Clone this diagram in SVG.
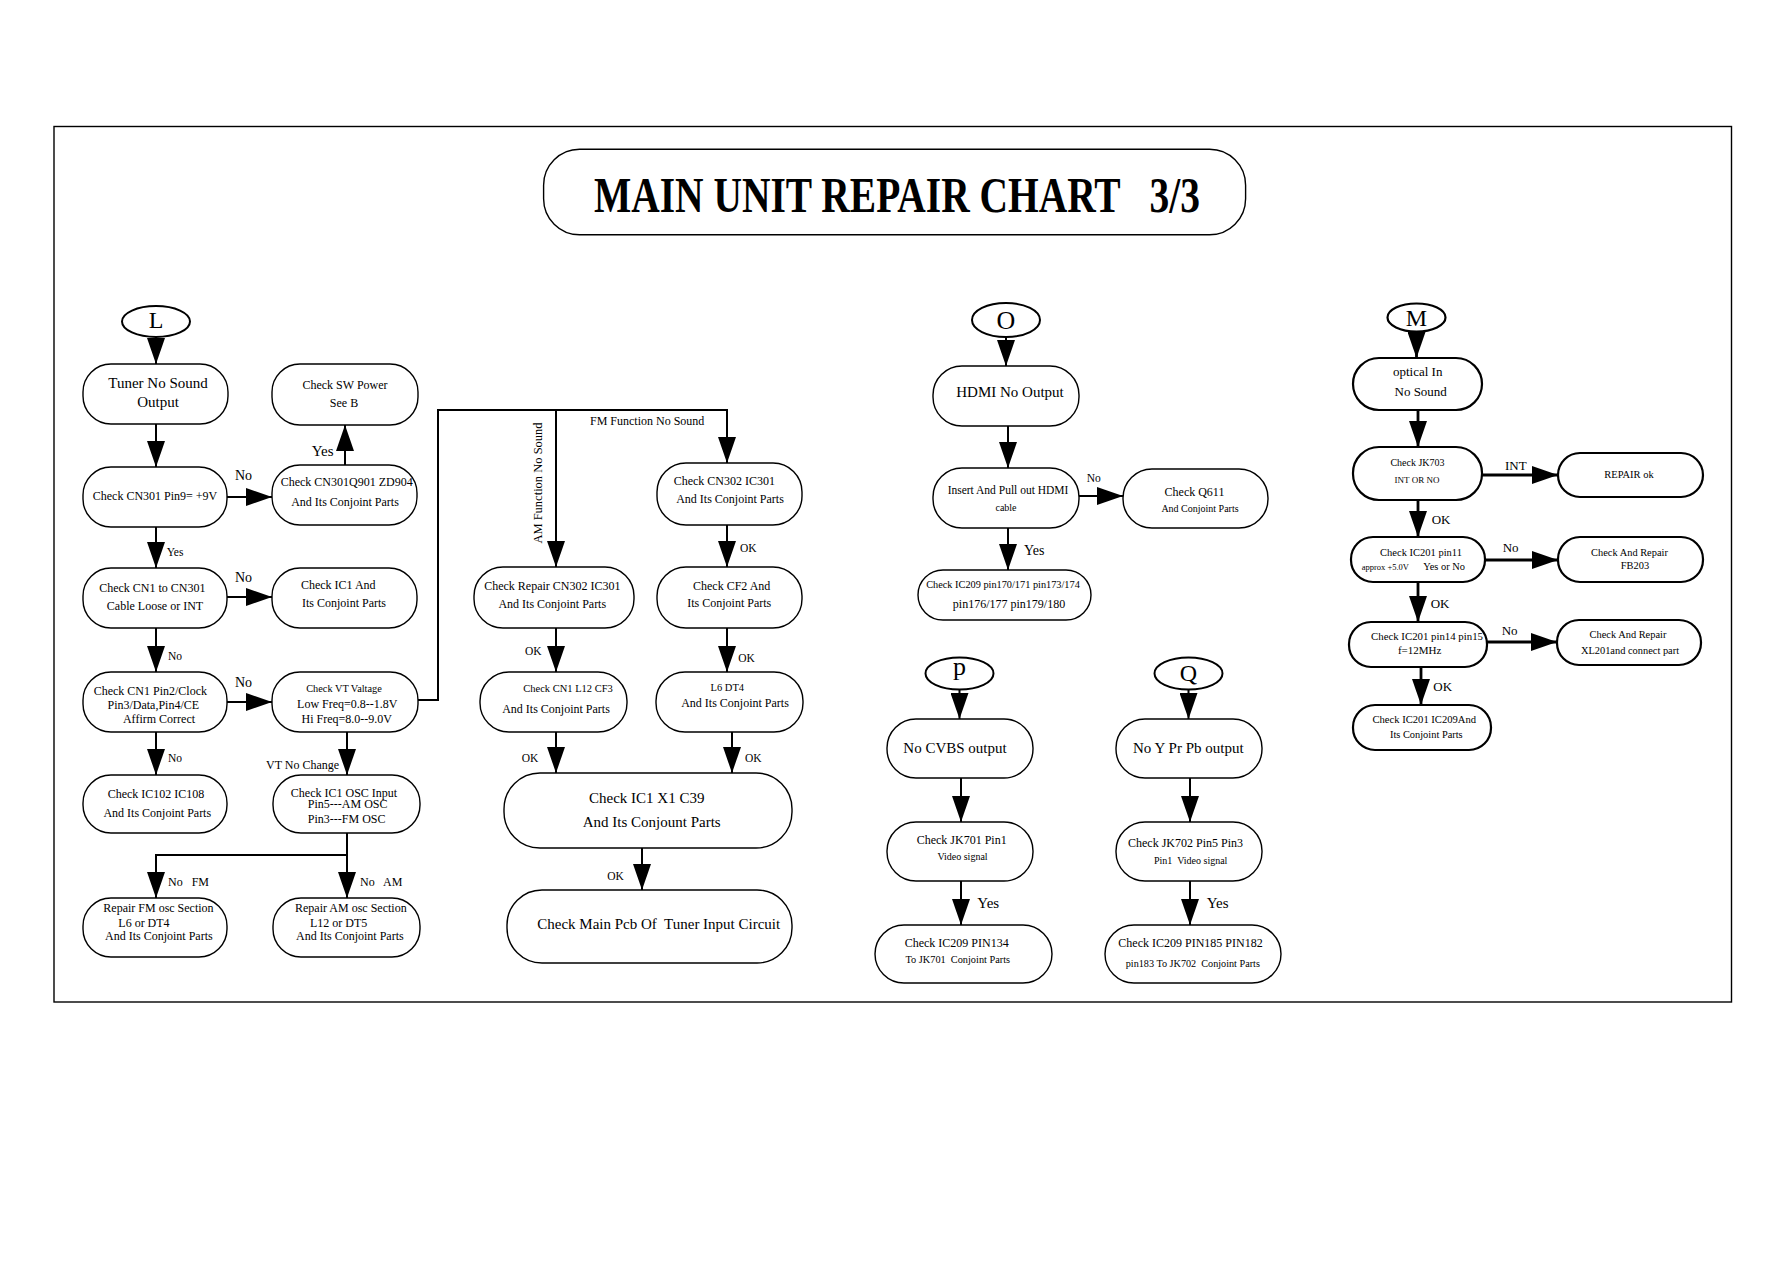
<svg xmlns="http://www.w3.org/2000/svg" width="1787" height="1263" viewBox="0 0 1787 1263">
<style>
text{font-family:"Liberation Serif","Times New Roman",serif;fill:#000}
.m{text-anchor:middle}
.n{fill:#fff;stroke:#000;stroke-width:1.4}
.nm{fill:#fff;stroke:#000;stroke-width:2.2}
.e{fill:#fff;stroke:#000;stroke-width:2}
.c{fill:none;stroke:#000;stroke-width:2}
.cm{fill:none;stroke:#000;stroke-width:2.8}
.pre{white-space:pre}
</style>
<defs>
<marker id="ah" markerUnits="userSpaceOnUse" markerWidth="26" markerHeight="18" refX="26" refY="9" orient="auto">
<path d="M0,0 L26,9 L0,18 z" fill="#000"/>
</marker>
</defs>
<rect x="54" y="126.5" width="1677.5" height="875.5" fill="none" stroke="#000" stroke-width="1.4"/>
<g id="title">
<rect x="543.6" y="149.3" width="702" height="85.5" rx="36" class="n" stroke-width="1.2"/>
<text x="594" y="212" font-size="50" font-weight="bold" class="pre" xml:space="preserve" textLength="606" lengthAdjust="spacingAndGlyphs">MAIN UNIT REPAIR CHART   3/3</text>
</g>

<g id="connectors">
<!-- L section -->
<line x1="156" y1="337" x2="156" y2="364" class="c" marker-end="url(#ah)"/>
<line x1="156" y1="424" x2="156" y2="467" class="c" marker-end="url(#ah)"/>
<line x1="227" y1="497" x2="272" y2="497" class="c" marker-end="url(#ah)"/>
<line x1="345" y1="465" x2="345" y2="425" class="c" marker-end="url(#ah)"/>
<line x1="156" y1="527" x2="156" y2="568" class="c" marker-end="url(#ah)"/>
<line x1="227" y1="597" x2="272" y2="597" class="c" marker-end="url(#ah)"/>
<line x1="156" y1="628" x2="156" y2="672" class="c" marker-end="url(#ah)"/>
<line x1="227" y1="702" x2="272" y2="702" class="c" marker-end="url(#ah)"/>
<line x1="156" y1="732" x2="156" y2="775" class="c" marker-end="url(#ah)"/>
<line x1="347" y1="732" x2="347" y2="775" class="c" marker-end="url(#ah)"/>
<line x1="347" y1="833" x2="347" y2="898" class="c" marker-end="url(#ah)"/>
<polyline points="347,855 156,855 156,898" class="c" marker-end="url(#ah)"/>
<!-- middle -->
<polyline points="418,700 438,700 438,410 727,410 727,463" class="c" marker-end="url(#ah)"/>
<line x1="556" y1="410" x2="556" y2="567" class="c" marker-end="url(#ah)"/>
<line x1="727" y1="525" x2="727" y2="567" class="c" marker-end="url(#ah)"/>
<line x1="556" y1="628" x2="556" y2="672" class="c" marker-end="url(#ah)"/>
<line x1="727" y1="628" x2="727" y2="672" class="c" marker-end="url(#ah)"/>
<line x1="556" y1="732" x2="556" y2="773" class="c" marker-end="url(#ah)"/>
<line x1="732" y1="732" x2="732" y2="773" class="c" marker-end="url(#ah)"/>
<line x1="642" y1="848" x2="642" y2="890" class="c" marker-end="url(#ah)"/>
<!-- O -->
<line x1="1006" y1="337" x2="1006" y2="366" class="c" marker-end="url(#ah)"/>
<line x1="1008" y1="426" x2="1008" y2="468" class="c" marker-end="url(#ah)"/>
<line x1="1079" y1="496" x2="1123" y2="496" class="c" marker-end="url(#ah)"/>
<line x1="1008" y1="528" x2="1008" y2="570" class="c" marker-end="url(#ah)"/>
<!-- P -->
<line x1="959.5" y1="689" x2="959.5" y2="719" class="c" marker-end="url(#ah)"/>
<line x1="961" y1="778" x2="961" y2="822" class="c" marker-end="url(#ah)"/>
<line x1="961" y1="881" x2="961" y2="925" class="c" marker-end="url(#ah)"/>
<!-- Q -->
<line x1="1188.5" y1="689" x2="1188.5" y2="719" class="c" marker-end="url(#ah)"/>
<line x1="1190" y1="778" x2="1190" y2="822" class="c" marker-end="url(#ah)"/>
<line x1="1190" y1="881" x2="1190" y2="925" class="c" marker-end="url(#ah)"/>
<!-- M -->
<line x1="1416.5" y1="331.5" x2="1416.5" y2="358" class="cm" marker-end="url(#ah)"/>
<line x1="1418" y1="410" x2="1418" y2="447" class="cm" marker-end="url(#ah)"/>
<line x1="1482" y1="475" x2="1558" y2="475" class="cm" marker-end="url(#ah)"/>
<line x1="1418" y1="500" x2="1418" y2="537" class="cm" marker-end="url(#ah)"/>
<line x1="1485" y1="560" x2="1558" y2="560" class="cm" marker-end="url(#ah)"/>
<line x1="1418" y1="582" x2="1418" y2="622" class="cm" marker-end="url(#ah)"/>
<line x1="1487" y1="642" x2="1557" y2="642" class="cm" marker-end="url(#ah)"/>
<line x1="1421" y1="667" x2="1421" y2="705" class="cm" marker-end="url(#ah)"/>
</g>

<g id="labels">
<text x="311.7" y="455.7" font-size="15">Yes</text>
<text x="235" y="480" font-size="14">No</text>
<text x="166.7" y="555.7" font-size="11.5">Yes</text>
<text x="235" y="581.7" font-size="14">No</text>
<text x="168" y="660" font-size="11.5">No</text>
<text x="235" y="686.7" font-size="14">No</text>
<text x="266" y="769.3" font-size="12">VT No Change</text>
<text x="168" y="761.7" font-size="11.5">No</text>
<text x="168" y="885.7" font-size="12" class="pre" xml:space="preserve">No   FM</text>
<text x="360" y="885.7" font-size="12" class="pre" xml:space="preserve">No   AM</text>
<text x="590" y="425" font-size="12">FM Function No Sound</text>
<text transform="translate(541.5,483) rotate(-90)" font-size="12.5" class="m">AM Function No Sound</text>
<text x="740" y="551.7" font-size="11.5">OK</text>
<text x="525" y="655" font-size="11.5">OK</text>
<text x="738.3" y="661.7" font-size="11.5">OK</text>
<text x="521.7" y="762.3" font-size="11.5">OK</text>
<text x="745" y="762.3" font-size="11.5">OK</text>
<text x="607.3" y="880" font-size="11.5">OK</text>
<text x="1086.7" y="481.7" font-size="11.5">No</text>
<text x="1024" y="555" font-size="14">Yes</text>
<text x="977.3" y="908.3" font-size="15">Yes</text>
<text x="1206.7" y="908.3" font-size="15">Yes</text>
<text x="1505" y="470" font-size="13">INT</text>
<text x="1431.7" y="524" font-size="13">OK</text>
<text x="1502.7" y="552.3" font-size="13">No</text>
<text x="1430.7" y="607.7" font-size="13">OK</text>
<text x="1501.7" y="635" font-size="13">No</text>
<text x="1433.3" y="690.7" font-size="13">OK</text>
</g>

<!-- L section -->
<g id="L"><ellipse cx="156" cy="321.5" rx="34" ry="15.5" class="e"/><text x="156" y="328" font-size="24" class="m">L</text></g>
<g id="tuner"><rect x="83" y="364" width="145" height="60" rx="28" class="n"/>
<text x="158" y="388" font-size="15" class="m">Tuner No Sound</text><text x="158" y="407" font-size="15" class="m">Output</text></g>
<g id="swpower"><rect x="272" y="364" width="146" height="61" rx="28" class="n"/>
<text x="345" y="389" font-size="12" class="m">Check SW Power</text><text x="344" y="407" font-size="12" class="m">See B</text></g>
<g id="cn301"><rect x="83" y="467" width="144" height="60" rx="28" class="n"/>
<text x="155" y="500" font-size="12" class="m">Check CN301 Pin9= +9V</text></g>
<g id="cn301q"><rect x="272" y="465" width="145" height="60" rx="28" class="n"/>
<text x="346.7" y="486" font-size="12" class="m">Check CN301Q901 ZD904</text><text x="345" y="506" font-size="12" class="m">And Its Conjoint Parts</text></g>
<g id="cn1cn301"><rect x="83" y="568" width="144" height="60" rx="28" class="n"/>
<text x="152.3" y="591.7" font-size="12" class="m">Check CN1 to CN301</text><text x="155" y="610" font-size="12" class="m">Cable Loose or INT</text></g>
<g id="ic1and"><rect x="272" y="568" width="145" height="60" rx="28" class="n"/>
<text x="338.3" y="589.3" font-size="12" class="m">Check IC1 And</text><text x="344" y="606.7" font-size="12" class="m">Its Conjoint Parts</text></g>
<g id="cn1pin2"><rect x="83" y="672" width="144" height="60" rx="28" class="n"/>
<text x="150.3" y="695" font-size="12" class="m">Check CN1 Pin2/Clock</text><text x="153.3" y="709" font-size="12" class="m">Pin3/Data,Pin4/CE</text><text x="159" y="723.3" font-size="12" class="m">Affirm Correct</text></g>
<g id="vt"><rect x="272" y="672" width="146" height="60" rx="28" class="n"/>
<text x="344" y="691.7" font-size="10.3" class="m">Check VT Valtage</text><text x="347.3" y="708.3" font-size="12" class="m">Low Freq=0.8--1.8V</text><text x="346.7" y="722.7" font-size="12" class="m">Hi Freq=8.0--9.0V</text></g>
<g id="ic102"><rect x="83" y="775" width="144" height="58" rx="28" class="n"/>
<text x="156" y="798.3" font-size="12" class="m">Check IC102 IC108</text><text x="157.3" y="816.7" font-size="12" class="m">And Its Conjoint Parts</text></g>
<g id="ic1osc"><rect x="273" y="775" width="147" height="58" rx="28" class="n"/>
<text x="344" y="796.7" font-size="12" class="m">Check IC1 OSC Input</text><text x="347.7" y="808.3" font-size="12" class="m">Pin5---AM OSC</text><text x="346.7" y="823.3" font-size="12" class="m">Pin3---FM OSC</text></g>
<g id="repairfm"><rect x="83" y="898" width="144" height="59" rx="28" class="n"/>
<text x="103.3" y="911.7" font-size="12">Repair FM osc Section</text><text x="118.3" y="926.7" font-size="12">L6 or DT4</text><text x="105" y="940" font-size="12">And Its Conjoint Parts</text></g>
<g id="repairam"><rect x="273" y="898" width="147" height="59" rx="28" class="n"/>
<text x="295" y="911.7" font-size="12">Repair AM osc Section</text><text x="310" y="926.7" font-size="12">L12 or DT5</text><text x="296" y="940" font-size="12">And Its Conjoint Parts</text></g>

<!-- middle -->
<g id="cn302"><rect x="657" y="463" width="145" height="62" rx="29" class="n"/>
<text x="724.3" y="485" font-size="12" class="m">Check CN302 IC301</text><text x="730" y="503.3" font-size="12" class="m">And Its Conjoint Parts</text></g>
<g id="checkrepair"><rect x="474" y="567" width="160" height="61" rx="29" class="n"/>
<text x="552.3" y="590" font-size="12" class="m">Check Repair CN302 IC301</text><text x="552.3" y="608.3" font-size="12" class="m">And Its Conjoint Parts</text></g>
<g id="cf2"><rect x="657" y="567" width="145" height="61" rx="29" class="n"/>
<text x="731.7" y="590" font-size="12" class="m">Check CF2 And</text><text x="729.3" y="606.7" font-size="12" class="m">Its Conjoint Parts</text></g>
<g id="cn1l12"><rect x="480" y="672" width="147" height="60" rx="29" class="n"/>
<text x="568" y="692.3" font-size="10.5" class="m">Check CN1 L12 CF3</text><text x="556" y="712.7" font-size="12" class="m">And Its Conjoint Parts</text></g>
<g id="l6dt4"><rect x="656" y="672" width="147" height="60" rx="29" class="n"/>
<text x="727.3" y="690.7" font-size="10.5" class="m">L6 DT4</text><text x="735" y="706.7" font-size="12" class="m">And Its Conjoint Parts</text></g>
<g id="ic1x1"><rect x="504" y="773" width="288" height="75" rx="36" class="n"/>
<text x="646.7" y="802.7" font-size="15" class="m">Check IC1 X1 C39</text><text x="651.7" y="826.7" font-size="15" class="m">And Its Conjount Parts</text></g>
<g id="mainpcb"><rect x="507" y="890" width="285" height="73" rx="35" class="n"/>
<text x="537.3" y="929.3" font-size="15" class="pre" xml:space="preserve">Check Main Pcb Of  Tuner Input Circuit</text></g>

<!-- O -->
<g id="O"><ellipse cx="1006" cy="320" rx="34" ry="17" class="e"/><text x="1006" y="329" font-size="26" class="m">O</text></g>
<g id="hdmi"><rect x="933" y="366" width="146" height="60" rx="29" class="n"/>
<text x="1010" y="397.3" font-size="15" class="m">HDMI No Output</text></g>
<g id="insert"><rect x="933" y="468" width="146" height="60" rx="29" class="n"/>
<text x="1008" y="494" font-size="11.5" class="m">Insert And Pull out HDMI</text><text x="1006" y="510.7" font-size="10" class="m">cable</text></g>
<g id="q611"><rect x="1123" y="469" width="145" height="59" rx="29" class="n"/>
<text x="1194.5" y="496" font-size="12" class="m">Check Q611</text><text x="1200" y="511.7" font-size="10" class="m">And Conjoint Parts</text></g>
<g id="ic209a"><rect x="918" y="570" width="173" height="50" rx="25" class="n"/>
<text x="1003" y="588.3" font-size="10.3" class="m">Check IC209 pin170/171 pin173/174</text><text x="1009" y="608.3" font-size="12" class="m">pin176/177 pin179/180</text></g>

<!-- P -->
<g id="P"><ellipse cx="959.5" cy="673.5" rx="34" ry="16" class="e"/><text x="959.5" y="674.5" font-size="26" class="m">p</text></g>
<g id="cvbs"><rect x="887" y="719" width="146" height="59" rx="29" class="n"/>
<text x="955" y="753.3" font-size="15" class="m">No CVBS output</text></g>
<g id="jk701"><rect x="887" y="822" width="146" height="59" rx="29" class="n"/>
<text x="961.7" y="844" font-size="12" class="m">Check JK701 Pin1</text><text x="962.5" y="860" font-size="10" class="m">Video signal</text></g>
<g id="ic209b"><rect x="875" y="925" width="177" height="58" rx="29" class="n"/>
<text x="956.7" y="946.7" font-size="12" class="m">Check IC209 PIN134</text><text x="957.8" y="962.7" font-size="10.3" class="m pre" xml:space="preserve">To JK701  Conjoint Parts</text></g>

<!-- Q -->
<g id="Q"><ellipse cx="1188.5" cy="673.5" rx="34" ry="16" class="e"/><text x="1188.5" y="681" font-size="24" class="m">Q</text></g>
<g id="ypbpr"><rect x="1116" y="719" width="146" height="59" rx="29" class="n"/>
<text x="1188.3" y="753.3" font-size="15" class="m">No Y Pr Pb output</text></g>
<g id="jk702"><rect x="1116" y="822" width="146" height="59" rx="29" class="n"/>
<text x="1185.5" y="846.7" font-size="12" class="m">Check JK702 Pin5 Pin3</text><text x="1190.7" y="864.3" font-size="10" class="m pre" xml:space="preserve">Pin1  Video signal</text></g>
<g id="ic209c"><rect x="1105" y="925" width="176" height="58" rx="29" class="n"/>
<text x="1190.5" y="946.7" font-size="12" class="m">Check IC209 PIN185 PIN182</text><text x="1192.8" y="966.7" font-size="10.2" class="m pre" xml:space="preserve">pin183 To JK702  Conjoint Parts</text></g>

<!-- M -->
<g id="M"><ellipse cx="1416.5" cy="317.5" rx="29" ry="14" class="nm" stroke-width="2.6"/><text x="1416.5" y="326" font-size="24" class="m">M</text></g>
<g id="optical"><rect x="1353" y="358" width="129" height="52" rx="26" class="nm"/>
<text x="1417.7" y="376" font-size="13" class="m">optical In</text><text x="1420.7" y="396" font-size="13" class="m">No Sound</text></g>
<g id="jk703"><rect x="1353" y="447" width="129" height="53" rx="26" class="nm"/>
<text x="1417.5" y="466" font-size="10" class="m">Check JK703</text><text x="1417" y="482.7" font-size="9" class="m">INT OR NO</text></g>
<g id="repairok"><rect x="1558" y="453" width="145" height="44" rx="22" class="nm"/>
<text x="1629" y="478.3" font-size="10.5" class="m">REPAIR ok</text></g>
<g id="ic201p11"><rect x="1351" y="537" width="134" height="45" rx="22" class="nm"/>
<text x="1421" y="555.7" font-size="10.5" class="m">Check IC201 pin11</text><text x="1361.7" y="570" font-size="8.5">approx +5.0V</text><text x="1423.3" y="570" font-size="10.4">Yes or No</text></g>
<g id="fb203"><rect x="1558" y="537" width="145" height="45" rx="22" class="nm"/>
<text x="1629.5" y="555.7" font-size="10.4" class="m">Check And Repair</text><text x="1635" y="569.3" font-size="10.4" class="m">FB203</text></g>
<g id="ic201p14"><rect x="1349" y="622" width="138" height="45" rx="22" class="nm"/>
<text x="1427" y="640" font-size="10.8" class="m">Check IC201 pin14 pin15</text><text x="1419.7" y="654.3" font-size="11" class="m">f=12MHz</text></g>
<g id="xl201"><rect x="1557" y="620" width="144" height="45" rx="22" class="nm"/>
<text x="1628" y="638.3" font-size="10.4" class="m">Check And Repair</text><text x="1630" y="654.3" font-size="10.4" class="m">XL201and connect part</text></g>
<g id="ic201ic209"><rect x="1353" y="705" width="138" height="45" rx="22" class="nm"/>
<text x="1424.3" y="723.3" font-size="10.6" class="m">Check IC201 IC209And</text><text x="1426.3" y="738.3" font-size="10.4" class="m">Its Conjoint Parts</text></g>
</svg>
